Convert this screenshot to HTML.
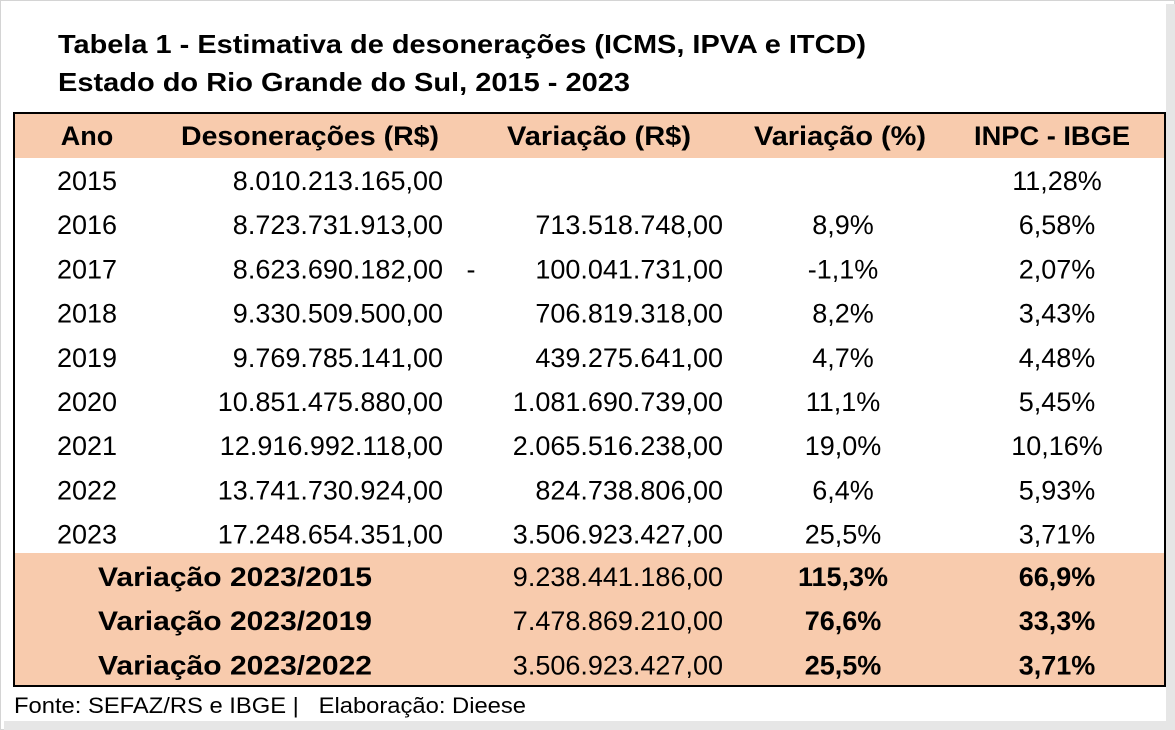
<!DOCTYPE html>
<html><head><meta charset="utf-8"><style>
html,body{margin:0;padding:0;background:#fff}
svg{display:block}
text{font-family:"Liberation Sans",sans-serif;fill:#000}
</style></head><body>
<svg width="1175" height="730" viewBox="0 0 1175 730">
<rect x="0.5" y="0.5" width="1174" height="729" fill="#fff" stroke="#d4d4d4" stroke-width="1"/>
<rect x="1166" y="4" width="9" height="726" fill="#e6e6e6"/>
<rect x="4" y="721" width="1171" height="9" fill="#e6e6e6"/>
<text x="58" y="53" font-size="26" font-weight="bold" textLength="808" lengthAdjust="spacingAndGlyphs">Tabela 1 - Estimativa de desonerações (ICMS, IPVA e ITCD)</text>
<text x="58" y="91" font-size="26" font-weight="bold" textLength="572" lengthAdjust="spacingAndGlyphs">Estado do Rio Grande do Sul, 2015 - 2023</text>
<rect x="14" y="113" width="1151" height="45" fill="#f8cbad"/>
<rect x="14" y="553" width="1151" height="133" fill="#f8cbad"/>
<rect x="14" y="113" width="1151" height="573" fill="none" stroke="#000" stroke-width="2"/>
<g font-size="27" font-weight="bold">
<text x="87" y="145" text-anchor="middle">Ano</text>
<text x="310" y="145" text-anchor="middle" textLength="258" lengthAdjust="spacingAndGlyphs">Desonerações (R$)</text>
<text x="599" y="145" text-anchor="middle" textLength="184" lengthAdjust="spacingAndGlyphs">Variação (R$)</text>
<text x="840" y="145" text-anchor="middle" textLength="172" lengthAdjust="spacingAndGlyphs">Variação (%)</text>
<text x="1052" y="145" text-anchor="middle" textLength="156" lengthAdjust="spacingAndGlyphs">INPC - IBGE</text>
</g>
<g id="rows" font-size="27"></g>
<g id="sum" font-size="27"></g>
<text x="14" y="713" font-size="22" textLength="512" lengthAdjust="spacingAndGlyphs">Fonte: SEFAZ/RS e IBGE |&#160;&#160;&#160;Elaboração: Dieese</text>
</svg>
<script>
const years=["2015","2016","2017","2018","2019","2020","2021","2022","2023"];
const deson=["8.010.213.165,00","8.723.731.913,00","8.623.690.182,00","9.330.509.500,00","9.769.785.141,00","10.851.475.880,00","12.916.992.118,00","13.741.730.924,00","17.248.654.351,00"];
const varRs=["","713.518.748,00","100.041.731,00","706.819.318,00","439.275.641,00","1.081.690.739,00","2.065.516.238,00","824.738.806,00","3.506.923.427,00"];
const negFlag=[false,false,true,false,false,false,false,false,false];
const varPct=["","8,9%","-1,1%","8,2%","4,7%","11,1%","19,0%","6,4%","25,5%"];
const inpc=["11,28%","6,58%","2,07%","3,43%","4,48%","5,45%","10,16%","5,93%","3,71%"];
const sumLabels=["Variação 2023/2015","Variação 2023/2019","Variação 2023/2022"];
const sumRs=["9.238.441.186,00","7.478.869.210,00","3.506.923.427,00"];
const sumPct=["115,3%","76,6%","25,5%"];
const sumInpc=["66,9%","33,3%","3,71%"];
const NS="http://www.w3.org/2000/svg";
function t(g,x,y,s,anchor,bold){const e=document.createElementNS(NS,"text");e.setAttribute("x",x);e.setAttribute("y",y);e.setAttribute("text-anchor",anchor);if(bold)e.setAttribute("font-weight","bold");e.textContent=s;g.appendChild(e);return e;}
const rows=document.getElementById("rows");
years.forEach((y,i)=>{const by=190+i*44.2;
 const g=document.createElementNS(NS,"g");
 
 
 rows.appendChild(g);
 t(g,87,by,y,"middle");
 t(g,443,by,deson[i],"end");
 if(varRs[i])t(g,723,by,varRs[i],"end");
 if(negFlag[i])t(g,471,by,"-","middle");
 if(varPct[i])t(g,843,by,varPct[i],"middle");
 t(g,1057,by,inpc[i],"middle");
});
const sum=document.getElementById("sum");
sumLabels.forEach((l,i)=>{const by=586+i*44.2;
 const g=document.createElementNS(NS,"g");
 
 
 sum.appendChild(g);
 const e=t(g,235,by,l,"middle",true);e.setAttribute("textLength","274");e.setAttribute("lengthAdjust","spacingAndGlyphs");
 t(g,723,by,sumRs[i],"end");
 t(g,843,by,sumPct[i],"middle",true);
 t(g,1057,by,sumInpc[i],"middle",true);
});
</script>
</body></html>
